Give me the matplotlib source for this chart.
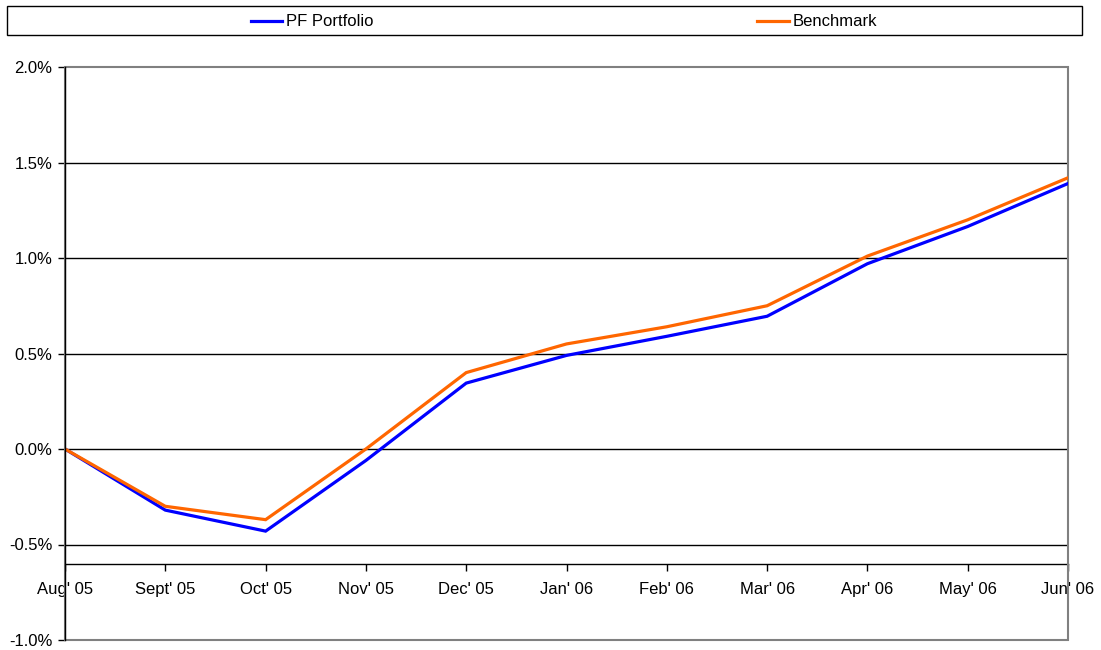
import matplotlib.pyplot as plt
from matplotlib.patches import Rectangle
from matplotlib.ticker import FuncFormatter

months = ["Aug' 05", "Sept' 05", "Oct' 05", "Nov' 05", "Dec' 05", "Jan' 06",
          "Feb' 06", "Mar' 06", "Apr' 06", "May' 06", "Jun' 06"]
pf_portfolio = [0.0, -0.32, -0.43, -0.06, 0.345, 0.49, 0.59, 0.695, 0.97, 1.165, 1.39]
benchmark = [0.0, -0.30, -0.37, 0.0, 0.40, 0.55, 0.64, 0.75, 1.01, 1.20, 1.42]
y_ticks = [-1.0, -0.5, 0.0, 0.5, 1.0, 1.5, 2.0]

plt.rcParams["font.family"] = ["Liberation Sans", "DejaVu Sans"]

fig = plt.figure(figsize=(11.01, 6.5), dpi=100)
ax = fig.add_axes([65 / 1101, 1 - 640 / 650, (1068 - 65) / 1101, (640 - 67) / 650])

x = list(range(len(months)))
ax.plot(x, pf_portfolio, color="#0000FF", lw=2.3, label="PF Portfolio", zorder=4,
        solid_joinstyle="miter")
ax.plot(x, benchmark, color="#FF6600", lw=2.3, label="Benchmark", zorder=5,
        solid_joinstyle="miter")

ax.set_xlim(0, len(months) - 1)
ax.set_ylim(-1.0, 2.0)

# gridlines
for v in y_ticks[1:-1]:
    ax.axhline(v, color="black", lw=1, zorder=2)

# gray plot-area frame
ax.add_patch(Rectangle((0, 0), 1, 1, transform=ax.transAxes, fill=False,
                       edgecolor="#808080", lw=1.5, zorder=3, clip_on=False))

for s in ["top", "right"]:
    ax.spines[s].set_visible(False)
ax.spines["left"].set_color("black")
ax.spines["left"].set_linewidth(1)
ax.spines["left"].set_zorder(6)
ax.spines["bottom"].set_position(("data", -0.6))
ax.spines["bottom"].set_color("black")
ax.spines["bottom"].set_linewidth(1)

ax.set_yticks(y_ticks)
ax.yaxis.set_major_formatter(FuncFormatter(lambda v, p: f"{v:.1f}%"))
ax.set_xticks(x)
ax.set_xticklabels(months)
ax.tick_params(axis="y", direction="out", length=5, width=1, pad=4, labelsize=12)
ax.tick_params(axis="x", direction="in", length=5, width=1, pad=13, labelsize=12)
# ticks point downward from the axis line
for t in ax.xaxis.get_major_ticks():
    t.tick1line.set_marker(3)

# legend box across the top
fig.patches.append(Rectangle((7 / 1101, 1 - 35 / 650), (1082 - 7) / 1101, 29 / 650,
                             transform=fig.transFigure, fill=False,
                             edgecolor="black", lw=1))
fig.legend(loc="center", bbox_to_anchor=(564 / 1101, 1 - 22 / 650), ncol=2,
           frameon=False, fontsize=12, handlelength=1.9, handletextpad=0.25,
           columnspacing=23)

fig.savefig("out.png", dpi=100)
